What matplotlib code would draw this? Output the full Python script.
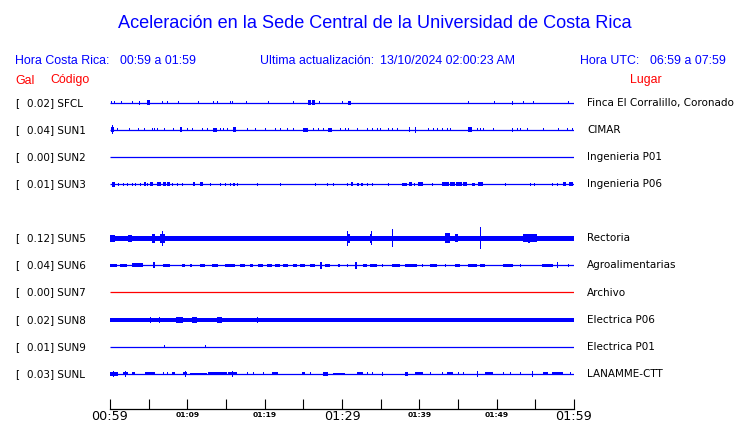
import matplotlib
matplotlib.use("Agg")
import matplotlib.pyplot as plt

W, H = 740, 423

title = "Aceleración en la Sede Central de la Universidad de Costa Rica"
hdr_cr = ["Hora Costa Rica:", "00:59 a 01:59"]
hdr_upd = ["Ultima actualización:", "13/10/2024 02:00:23 AM"]
hdr_utc = ["Hora UTC:", "06:59 a 07:59"]

codes = ["SFCL", "SUN1", "SUN2", "SUN3", "SUN5", "SUN6", "SUN7", "SUN8", "SUN9", "SUNL"]
peaks = [0.02, 0.04, 0.00, 0.01, 0.12, 0.04, 0.00, 0.02, 0.01, 0.03]
places = ["Finca El Corralillo, Coronado", "CIMAR", "Ingenieria P01", "Ingenieria P06",
          "Rectoria", "Agroalimentarias", "Archivo", "Electrica P06", "Electrica P01",
          "LANAMME-CTT"]
rows = [0, 1, 2, 3, 5, 6, 7, 8, 9, 10]
band = [0, 0, 0, 0, 2.6, 0, 0, 2.0, 0, 0]   # steady noise half-width

tick_minutes = list(range(0, 61, 5))
tick_labels = ["00:59", "", "01:09", "", "01:19", "", "01:29", "", "01:39", "", "01:49", "", "01:59"]
major_labels = ["00:59", "01:29", "01:59"]

# bursts: (start minute, end minute, half amplitude)
sfcl_bursts = [(0.1, 0.1, 1.5), (0.5, 0.5, 1.5), (1.4, 1.4, 1.5), (2.8, 3.0, 1.5), (3.7, 3.8, 2),
               (4.8, 5.2, 2.5), (6.7, 6.7, 1.5), (7.4, 7.4, 1.5), (8.8, 8.8, 1.5), (11.4, 11.4, 1.5),
               (13.3, 13.3, 1.5), (13.8, 13.8, 1.5), (15.5, 15.5, 1.5), (15.8, 15.8, 1.5),
               (17.6, 17.6, 1.5), (20.4, 20.4, 1.5), (23.7, 23.7, 1.5), (25.6, 26.0, 2.5),
               (26.1, 26.5, 2.5), (27.0, 27.0, 1.5), (30.0, 30.0, 1.5), (30.8, 31.2, 2),
               (46.3, 46.3, 1.5), (49.7, 49.7, 1.5), (52.0, 52.1, 2), (53.4, 53.4, 1.5),
               (54.7, 54.7, 1.5), (59.2, 59.2, 1.5)]
sun1_bursts = [(0.1, 0.5, 2.5), (0.2, 0.3, 4.5), (0.9, 0.9, 1.5), (2.5, 2.5, 1.5), (3.6, 3.6, 1.5),
               (4.4, 4.4, 1.5), (5.4, 5.4, 1.5), (5.7, 5.7, 1.5), (6.1, 6.1, 1.5), (7.0, 7.0, 1.5),
               (8.1, 8.1, 1.5), (9.1, 9.3, 2.5), (10.0, 10.0, 1.5), (10.6, 10.6, 1.5),
               (11.9, 11.9, 1.5), (12.5, 12.5, 1.5), (13.3, 13.8, 2), (14.2, 14.2, 1.5),
               (14.6, 14.6, 1.5), (15.1, 15.1, 1.5), (15.9, 16.3, 2.5), (17.7, 17.7, 1.5),
               (18.8, 18.8, 1.5), (20.0, 20.0, 1.5), (21.3, 21.3, 1.5), (22.0, 22.0, 1.5),
               (22.9, 22.9, 1.5), (23.7, 23.7, 1.5), (25.0, 25.6, 2), (26.3, 26.3, 1.5),
               (26.9, 26.9, 1.5), (27.5, 27.5, 1.5), (28.2, 28.7, 2), (29.7, 29.7, 1.5),
               (30.4, 30.4, 1.5), (30.8, 30.8, 1.5), (31.9, 31.9, 1.5), (33.2, 33.2, 1.5),
               (33.9, 33.9, 1.5), (34.5, 34.5, 1.5), (34.9, 34.9, 1.5), (36.0, 36.0, 1.5),
               (36.5, 36.5, 1.5), (37.1, 37.1, 1.5), (38.7, 38.8, 2.5), (39.4, 39.5, 3),
               (41.1, 41.1, 1.5), (41.8, 41.8, 1.5), (42.3, 42.3, 1.5), (42.9, 42.9, 1.5),
               (43.6, 43.6, 1.5), (44.0, 44.0, 1.5), (46.3, 46.8, 2.5), (47.5, 47.5, 1.5),
               (47.8, 47.8, 1.5), (48.2, 48.2, 1.5), (49.5, 49.5, 1.5), (52.0, 52.1, 2),
               (52.6, 52.6, 1.5), (53.0, 53.0, 1.5), (53.9, 53.9, 1.5), (56.0, 56.0, 1.5),
               (57.9, 57.9, 1.5), (59.1, 59.1, 1.5), (59.7, 59.7, 1.5)]
sun2_bursts = []
sun3_bursts = [(0.3, 0.6, 2.5), (1.0, 1.0, 1.5), (1.7, 1.7, 1.5), (2.2, 2.2, 1.5), (2.8, 2.8, 1.5),
               (3.2, 3.2, 1.5), (3.9, 3.9, 1.5), (4.4, 4.6, 2), (4.8, 4.9, 1.5), (5.2, 5.6, 2),
               (6.1, 6.6, 2), (6.8, 7.2, 2), (7.4, 7.8, 2), (8.0, 8.0, 1.5), (8.7, 8.7, 1.5),
               (9.3, 9.3, 1.5), (10.7, 11.0, 2), (11.6, 12.0, 2), (12.9, 12.9, 1.5),
               (14.2, 14.2, 1.5), (14.9, 14.9, 1.5), (15.5, 15.5, 1.5), (15.9, 16.1, 1.5),
               (16.4, 16.6, 1.5), (19.0, 19.0, 1.5), (22.0, 22.0, 1.5), (26.5, 26.5, 1.5),
               (28.1, 28.2, 1.5), (28.8, 28.8, 1.5), (30.6, 30.8, 1.5), (31.1, 31.4, 2),
               (31.9, 32.2, 1.5), (32.4, 32.7, 1.5), (33.2, 33.2, 1.5), (33.9, 33.9, 1.5),
               (35.9, 35.9, 1.5), (37.8, 38.4, 1.5), (38.7, 39.0, 2), (39.3, 39.5, 1.5),
               (39.8, 40.5, 2), (41.6, 41.6, 1.5), (42.9, 43.8, 2), (44.0, 44.6, 2),
               (44.8, 45.5, 2), (45.7, 46.2, 2), (46.8, 47.2, 1.5), (47.6, 48.2, 2),
               (51.1, 51.1, 1.5), (54.3, 54.5, 1.5), (54.8, 55.0, 1.5), (57.2, 57.2, 1.5),
               (57.8, 57.8, 1.5), (58.6, 59.0, 2), (59.3, 59.9, 2)]
sun5_bursts = [(0.0, 0.6, 3.5), (2.3, 2.8, 3.5), (5.4, 5.8, 4.5), (6.5, 7.1, 4.5), (6.7, 6.8, 7.5),
               (30.6, 31.0, 4.5), (30.7, 30.8, 7.5), (33.6, 33.9, 4.5), (33.7, 33.8, 7),
               (36.5, 36.6, 9), (43.3, 44.0, 5), (44.6, 45.0, 4), (47.8, 47.9, 11),
               (53.4, 55.2, 3.8), (54.0, 54.3, 4.5)]
sun6_bursts = [(0.0, 0.9, 1.5), (1.3, 2.2, 1.5), (2.8, 4.3, 2), (5.6, 5.8, 3), (6.9, 7.8, 1.5),
               (9.3, 9.7, 1.5), (10.3, 10.6, 1.5), (11.6, 12.3, 1.5), (13.2, 14.0, 1.5),
               (14.9, 16.2, 1.5), (16.8, 17.5, 1.5), (18.1, 18.5, 1.5), (19.1, 19.8, 1.5),
               (20.3, 20.9, 1.5), (21.3, 22.0, 1.5), (22.4, 23.0, 1.5), (23.7, 24.2, 1.5),
               (24.6, 25.2, 1.5), (25.9, 26.5, 1.5), (27.2, 27.4, 3.5), (27.8, 28.4, 1.5),
               (29.5, 29.7, 1.5), (30.6, 30.6, 1.5), (31.7, 31.9, 3.5), (32.7, 33.2, 1.5),
               (33.6, 34.5, 1.5), (35.2, 35.2, 1.5), (36.5, 37.5, 1.5), (38.1, 39.7, 1.5),
               (40.3, 40.3, 1.5), (41.4, 42.3, 1.5), (43.3, 43.3, 1.5), (44.6, 45.3, 1.5),
               (46.3, 47.5, 1.5), (47.8, 48.5, 1.5), (50.8, 52.1, 1.5), (53.0, 53.0, 1.5),
               (55.9, 57.3, 1.5), (57.8, 57.8, 3), (59.2, 59.2, 1.5)]
sun7_bursts = []
sun8_bursts = [(5.2, 5.2, 3), (6.3, 6.3, 3), (8.5, 9.4, 3), (10.6, 11.3, 3),
               (13.8, 14.5, 3), (19.0, 19.0, 3)]
sun9_bursts = [(7.0, 7.0, 1.2), (12.3, 12.3, 1.2)]
sunl_bursts = [(0.0, 1.0, 2), (0.4, 0.5, 3), (1.7, 2.3, 1.5), (1.9, 2.0, 3), (2.8, 3.2, 1.5),
               (4.5, 5.8, 1.5), (6.9, 6.9, 1.5), (7.4, 7.4, 1.5), (8.0, 8.4, 1.5), (9.4, 10.0, 1.5),
               (9.7, 9.8, 3), (10.3, 12.5, 1.2), (12.7, 15.1, 1.5), (15.3, 16.4, 1.5), (15.8, 15.9, 3),
               (17.7, 17.7, 1.5), (18.5, 18.5, 1.5), (19.8, 19.8, 1.5), (20.9, 21.7, 1.5),
               (24.8, 25.2, 1.5), (25.9, 25.9, 1.5), (27.5, 28.2, 2), (28.8, 30.4, 1.2),
               (31.9, 32.7, 1.5), (33.2, 33.2, 1.5), (33.9, 33.9, 1.5), (35.2, 35.3, 2),
               (38.1, 38.5, 2), (39.4, 40.5, 1.5), (41.4, 41.4, 1.5), (42.9, 42.9, 1.5),
               (43.6, 44.4, 1.5), (45.0, 45.0, 1.5), (45.6, 45.6, 1.5), (47.5, 47.5, 3),
               (48.5, 49.5, 1.5), (50.8, 50.8, 1.5), (51.7, 51.7, 1.5), (53.0, 53.0, 1.5),
               (54.6, 54.6, 3), (56.0, 56.6, 1.5), (57.2, 58.6, 1.5), (59.5, 59.5, 1.5)]
bursts = [sfcl_bursts, sun1_bursts, sun2_bursts, sun3_bursts, sun5_bursts,
          sun6_bursts, sun7_bursts, sun8_bursts, sun9_bursts, sunl_bursts]

BLUE = "#0000ff"
RED = "#ff0000"
trace_colors = [RED if c == "SUN7" else BLUE for c in codes]

fig = plt.figure(figsize=(W / 100, H / 100), dpi=100)
fig.patch.set_facecolor("white")


def fx(x):
    return x / W


def fy(y):
    return 1 - y / H


HEAD = ["Liberation Sans", "DejaVu Sans"]
HS = 8.9
fig.text(fx(375), fy(23), title, ha="center", va="center", color=BLUE, fontsize=13.1, family=HEAD)
fig.text(fx(15), fy(60.5), hdr_cr[0], ha="left", va="center", color=BLUE, fontsize=HS, family=HEAD)
fig.text(fx(120.5), fy(60.5), hdr_cr[1], ha="left", va="center", color=BLUE, fontsize=HS, family=HEAD)
fig.text(fx(260), fy(60.5), hdr_upd[0], ha="left", va="center", color=BLUE, fontsize=HS, family=HEAD)
fig.text(fx(380.5), fy(60.5), hdr_upd[1], ha="left", va="center", color=BLUE, fontsize=HS, family=HEAD)
fig.text(fx(580), fy(60.5), hdr_utc[0], ha="left", va="center", color=BLUE, fontsize=HS, family=HEAD)
fig.text(fx(650), fy(60.5), hdr_utc[1], ha="left", va="center", color=BLUE, fontsize=HS, family=HEAD)
fig.text(fx(15), fy(80.5), "Gal", ha="left", va="center", color=RED, fontsize=HS, family=HEAD)
fig.text(fx(50), fy(80.5), "Código", ha="left", va="center", color=RED, fontsize=HS, family=HEAD)
fig.text(fx(630), fy(80.5), "Lugar", ha="left", va="center", color=RED, fontsize=HS, family=HEAD)

ax = fig.add_axes([fx(110), 0, 464 / W, 1])
ax.set_xlim(0, 60)
ax.set_ylim(H, 0)
ax.patch.set_alpha(0)
for s in ["top", "left", "right"]:
    ax.spines[s].set_visible(False)
ax.spines["bottom"].set_position(("data", 409))
ax.spines["bottom"].set_linewidth(0.9)
ax.set_yticks([])
ax.set_xticks(tick_minutes)
ax.tick_params(axis="x", direction="in", length=7, width=0.8, labelbottom=False)

for m, lab in zip(tick_minutes, tick_labels):
    if not lab:
        continue
    if lab in major_labels:
        ax.text(m, 417, lab, ha="center", va="center", fontsize=9.2, family="DejaVu Sans")
    else:
        ax.text(m, 415, lab, ha="center", va="center", fontsize=5.4, fontweight="bold",
                family="DejaVu Sans")

for code, pk, place, row, bw, bl, col in zip(codes, peaks, places, rows, band, bursts, trace_colors):
    y0 = 102.8 + row * 27.1
    ax.hlines(y0, 0, 60, color=col, lw=0.9)
    if bw > 0:
        ax.fill_between([0, 60], y0 - bw, y0 + bw, color=col, lw=0)
    for s, e, a in bl:
        w = max(e - s, 0.14)
        ax.bar(s, 2 * a, width=w, bottom=y0 - a, align="edge", color=col,
               linewidth=0, antialiased=False)
    fig.text(fx(15), fy(y0), "[", ha="left", va="center", fontsize=7.5, family="DejaVu Sans")
    fig.text(fx(27), fy(y0), f"{pk:.2f}] {code}", ha="left", va="center", fontsize=7.5,
             family="DejaVu Sans")
    fig.text(fx(587), fy(y0), place, ha="left", va="center", fontsize=7.5, family="DejaVu Sans")

fig.savefig("out.png", dpi=100, facecolor="white")
